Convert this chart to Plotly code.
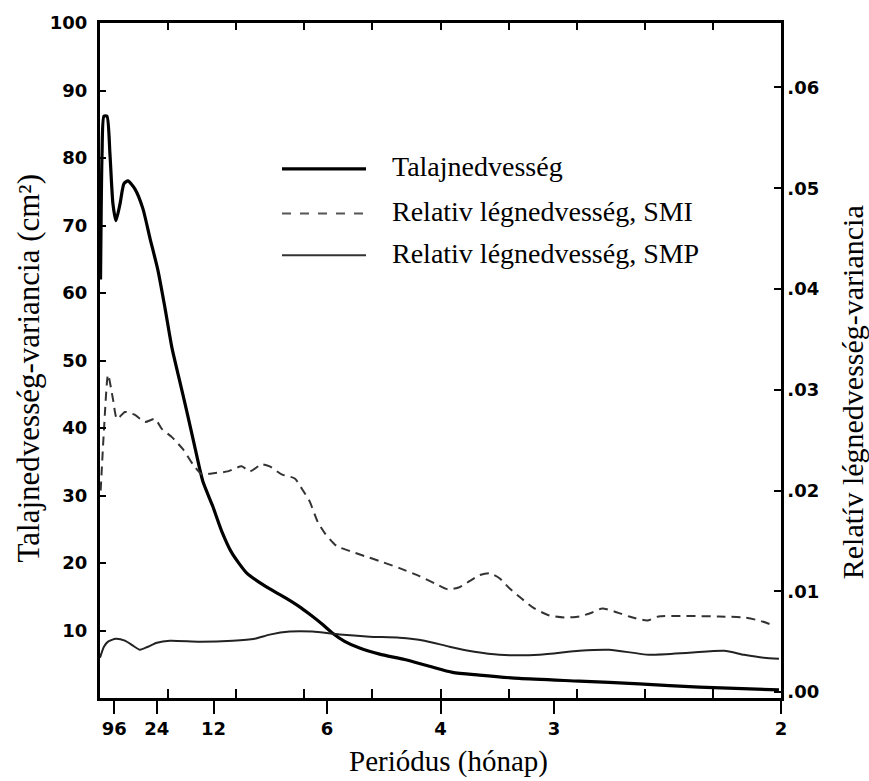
import plotly.graph_objects as go

# --- Data (frequency in cycles/month; period = 1/frequency) ---
soil_freq = [0.0004, 0.0015, 0.0029, 0.0051, 0.0073, 0.0095, 0.0117, 0.0147, 0.0176, 0.0205,
             0.0257, 0.0315, 0.0367, 0.0425, 0.0477, 0.0528, 0.0587, 0.0638, 0.0696, 0.0755,
             0.0828, 0.0894, 0.0968, 0.1078, 0.121, 0.1356, 0.1466, 0.154, 0.1628, 0.1708,
             0.1796, 0.1906, 0.2053, 0.2236, 0.2419, 0.2588, 0.2786, 0.3079, 0.3519, 0.3959,
             0.4399, 0.4985]
soil_var = [62, 80.6, 86.2, 86.2, 80.6, 73.2, 70.7, 73.2, 76.2, 76.6,
            75.4, 72.5, 68.1, 63.4, 57.8, 51.9, 46.8, 42.4, 37.2, 32.1,
            28.4, 24.7, 21.5, 18.5, 16.6, 14.9, 13.5, 12.4, 11.0, 9.6,
            8.4, 7.4, 6.5, 5.7, 4.7, 3.8, 3.4, 2.9, 2.5, 2.1,
            1.6, 1.2]

smi_freq = [0.0005, 0.0029, 0.0059, 0.0095, 0.0125, 0.0183, 0.0257, 0.033, 0.0403, 0.0455,
            0.0528, 0.0609, 0.0682, 0.0748, 0.0821, 0.0938, 0.104, 0.1100, 0.1188, 0.1246,
            0.1334, 0.1430, 0.1481, 0.1540, 0.1598, 0.1649, 0.1737, 0.1833, 0.1942, 0.2053,
            0.2199, 0.2346, 0.2456, 0.2551, 0.2639, 0.2713, 0.2786, 0.2859, 0.2933, 0.3006,
            0.3093, 0.3189, 0.3299, 0.3409, 0.3519, 0.3614, 0.3688, 0.3775, 0.3886, 0.4018,
            0.4100, 0.4545, 0.4729, 0.4839, 0.4949]
smi_var = [0.0200, 0.0260, 0.0315, 0.0291, 0.0271, 0.0278, 0.0275, 0.0268, 0.0271, 0.0261,
           0.0253, 0.0241, 0.0226, 0.0216, 0.0217, 0.0219, 0.0224, 0.0219, 0.0226, 0.0224,
           0.0216, 0.0212, 0.0202, 0.0189, 0.0169, 0.0158, 0.0145, 0.0140, 0.0135, 0.0130,
           0.0123, 0.0115, 0.0108, 0.0102, 0.0104, 0.0110, 0.0116, 0.0118, 0.0113, 0.0103,
           0.0093, 0.0083, 0.0076, 0.0074, 0.0075, 0.0079, 0.0083, 0.0080, 0.0075, 0.0071,
           0.0075, 0.0075, 0.0074, 0.0071, 0.0066]

smp_freq = [0.0, 0.0029, 0.0059, 0.0117, 0.0183, 0.0242, 0.0293, 0.0352, 0.0418, 0.0513,
            0.0733, 0.0975, 0.1136, 0.1246, 0.1393, 0.156, 0.176, 0.198, 0.2199, 0.2382,
            0.2566, 0.2749, 0.2933, 0.3226, 0.3519, 0.3739, 0.4032, 0.4326, 0.4583, 0.4729,
            0.4875, 0.4985]
smp_var = [0.0034, 0.0045, 0.0050, 0.0053, 0.0051, 0.0046, 0.0042, 0.0045, 0.0049, 0.0051,
           0.0050, 0.0051, 0.0053, 0.0057, 0.0060, 0.0060, 0.0057, 0.0055, 0.0054, 0.0051,
           0.0045, 0.0040, 0.0037, 0.0037, 0.0041, 0.0042, 0.0037, 0.0039, 0.0041, 0.0037,
           0.0034, 0.0033]

period_ticks = [96, 24, 12, 6, 4, 3, 2]
left_ticks = [10, 20, 30, 40, 50, 60, 70, 80, 90, 100]
right_ticks = [0.00, 0.01, 0.02, 0.03, 0.04, 0.05, 0.06]
minor_freq_ticks = [0.05, 0.10, 0.15, 0.20, 0.25, 0.30, 0.35, 0.40, 0.45]

legend_names = ["Talajnedvesség", "Relativ légnedvesség, SMI", "Relativ légnedvesség, SMP"]

fig = go.Figure()
fig.add_trace(go.Scatter(x=soil_freq, y=soil_var, mode="lines", name=legend_names[0],
                         line=dict(color="black", width=3.2, shape="spline", smoothing=0.6),
                         xaxis="x", yaxis="y"))
fig.add_trace(go.Scatter(x=smi_freq, y=smi_var, mode="lines", name=legend_names[1],
                         line=dict(color="#333333", width=2, dash="9px,6px", shape="spline", smoothing=0.6),
                         xaxis="x", yaxis="y2"))
fig.add_trace(go.Scatter(x=smp_freq, y=smp_var, mode="lines", name=legend_names[2],
                         line=dict(color="#222222", width=2, shape="spline", smoothing=0.6),
                         xaxis="x", yaxis="y2"))
# invisible trace to anchor top axis
fig.add_trace(go.Scatter(x=[0.25], y=[50], mode="markers", marker=dict(opacity=0),
                         xaxis="x2", yaxis="y", showlegend=False, hoverinfo="skip"))

tick_font = dict(family="DejaVu Sans", size=18, color="black", weight="bold")
serif = "Liberation Serif"

L, R, T, B = 100, 88, 18, 83
W, H = 869, 781
pw, ph = W - L - R, H - T - B

fig.update_layout(
    width=W, height=H,
    margin=dict(l=L, r=R, t=T, b=B),
    paper_bgcolor="white", plot_bgcolor="white",
    showlegend=False,
    xaxis=dict(range=[0, 0.5], tickvals=[1 / p for p in period_ticks],
               ticktext=[str(p) for p in period_ticks], ticks="outside", ticklen=13,
               tickwidth=2, tickcolor="black", showline=True, linecolor="black", linewidth=2.5,
               showgrid=False, zeroline=False, tickfont=tick_font,
               minor=dict(tickvals=minor_freq_ticks, ticks="inside", ticklen=9, tickwidth=2,
                          tickcolor="black", showgrid=False)),
    xaxis2=dict(range=[0, 0.5], overlaying="x", side="top", anchor="y", tickvals=minor_freq_ticks,
                ticks="inside", ticklen=7, tickwidth=2, tickcolor="black", showticklabels=False,
                showline=True, linecolor="black", linewidth=2.5, showgrid=False, zeroline=False),
    yaxis=dict(range=[0, 100], tickvals=left_ticks, ticks="inside", ticklen=6, tickwidth=2,
               tickcolor="black", showline=True, linecolor="black", linewidth=3.2,
               showgrid=False, zeroline=False, tickfont=tick_font, ticklabelstandoff=6),
    yaxis2=dict(range=[-0.00059, 0.0664], overlaying="y", side="right", anchor="x",
                tickvals=right_ticks, ticktext=["." + f"{v:.2f}".split(".")[1] for v in right_ticks],
                ticks="inside", ticklen=7, tickwidth=2, tickcolor="black", showline=True,
                linecolor="black", linewidth=2.5, showgrid=False, zeroline=False, tickfont=tick_font),
)

def px_to_paper(x, y):
    return (x - L) / pw, (H - B - y) / ph

# Custom legend (line samples + labels)
legend_rows = [165, 210, 252]
legend_styles = [dict(color="black", width=3.2),
                 dict(color="#555555", width=2, dash="dash"),
                 dict(color="#333333", width=2)]
for name, yy, st in zip(legend_names, legend_rows, legend_styles):
    x0, y0 = px_to_paper(282, yy)
    x1, _ = px_to_paper(366, yy)
    fig.add_shape(type="line", xref="paper", yref="paper", x0=x0, x1=x1, y0=y0, y1=y0, line=st)
    tx, ty = px_to_paper(390, yy - 2)
    fig.add_annotation(xref="paper", yref="paper", x=tx, y=ty, text=name, showarrow=False,
                       xanchor="left", yanchor="middle", font=dict(family=serif, size=28, color="black"))

# Axis titles
ax, ay = px_to_paper(448, 762)
fig.add_annotation(xref="paper", yref="paper", x=ax, y=ay, text="Periódus (hónap)", showarrow=False,
                   xanchor="center", yanchor="middle", font=dict(family=serif, size=29, color="black"))
lx, ly = px_to_paper(28, 366)
fig.add_annotation(xref="paper", yref="paper", x=lx, y=ly, text="Talajnedvesség-variancia (cm²)",
                   showarrow=False, textangle=-90, xanchor="center", yanchor="middle",
                   font=dict(family=serif, size=31, color="black"))
rx, ry = px_to_paper(852, 390)
fig.add_annotation(xref="paper", yref="paper", x=rx, y=ry, text="Relatív légnedvesség-variancia",
                   showarrow=False, textangle=-90, xanchor="center", yanchor="middle",
                   font=dict(family=serif, size=30, color="black"))

fig.write_html("out.html")
